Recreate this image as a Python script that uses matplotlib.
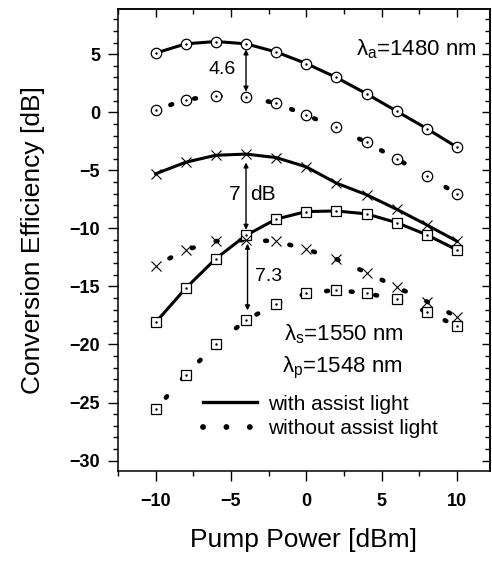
import matplotlib
matplotlib.use("Agg")
import matplotlib.pyplot as plt
from matplotlib.lines import Line2D
from matplotlib.ticker import MultipleLocator

plt.rcParams['font.family'] = ['Liberation Sans', 'DejaVu Sans']
plt.rcParams['mathtext.fontset'] = 'custom'
plt.rcParams['mathtext.rm'] = 'Liberation Sans'
plt.rcParams['mathtext.it'] = 'Liberation Sans'

# pump power [dBm]
pump = [-10, -8, -6, -4, -2, 0, 2, 4, 6, 8, 10]

# conversion efficiency [dB]
circ_with = [5.1, 5.9, 6.1, 5.9, 5.2, 4.2, 3.0, 1.6, 0.1, -1.4, -3.0]
circ_without = [0.2, 1.1, 1.4, 1.3, 0.8, -0.25, -1.3, -2.6, -4.0, -5.5, -7.0]
cross_with = [-5.3, -4.3, -3.7, -3.6, -3.9, -4.7, -6.1, -7.1, -8.35, -9.7, -11.1]
cross_without = [-13.2, -11.85, -11.1, -11.0, -11.1, -11.8, -12.65, -13.8, -15.05, -16.3, -17.6]
sq_with = [-18.1, -15.15, -12.6, -10.6, -9.2, -8.55, -8.5, -8.75, -9.5, -10.55, -11.85]
sq_without = [-25.6, -22.6, -20.0, -17.9, -16.5, -15.6, -15.3, -15.6, -16.1, -17.2, -18.4]

fig = plt.figure(figsize=(4.92, 5.61), dpi=100)
ax = fig.add_axes([118 / 492, 1 - 471 / 561, 372 / 492, 462 / 561])

solid = dict(color='black', lw=2.2, ls='-', zorder=2)
dotted = dict(color='black', lw=3.3, ls=(2, (0.4, 5.0)), dash_capstyle='round', zorder=2)

ax.plot(pump, circ_with, **solid)
ax.plot(pump, circ_without, **dotted)
ax.plot(pump, cross_with, **solid)
ax.plot(pump, cross_without, **dotted)
ax.plot(pump, sq_with, **solid)
ax.plot(pump, sq_without, **dotted)

# open markers with a small dot in the middle
for ys in (circ_with, circ_without):
    ax.plot(pump, ys, ls='none', marker='o', ms=7.5, mfc='white', mec='black', mew=0.9, zorder=3)
    ax.plot(pump, ys, ls='none', marker='.', ms=1.5, color='black', zorder=4)
for ys in (sq_with, sq_without):
    ax.plot(pump, ys, ls='none', marker='s', ms=6.5, mfc='white', mec='black', mew=0.9, zorder=3)
    ax.plot(pump, ys, ls='none', marker='.', ms=1.5, color='black', zorder=4)
for ys in (cross_with, cross_without):
    ax.plot(pump, ys, ls='none', marker='x', ms=7.5, mec='black', mew=0.8, zorder=3)

# difference arrows at -4 dBm
i = 3
arrow = dict(arrowstyle='<|-|>', color='black', lw=1.0, mutation_scale=7)
ax.annotate('', xy=(pump[i], circ_without[i]), xytext=(pump[i], circ_with[i]),
            arrowprops=dict(arrow, shrinkA=4, shrinkB=4))
ax.annotate('', xy=(pump[i], sq_with[i]), xytext=(pump[i], cross_with[i]),
            arrowprops=dict(arrow, shrinkA=6, shrinkB=4))
ax.annotate('', xy=(pump[i] + 0.1, sq_without[i]), xytext=(pump[i] + 0.1, sq_with[i]),
            arrowprops=dict(arrow, shrinkA=6, shrinkB=7))

ax.text(-5.6, 3.7, '4.6', fontsize=14, ha='center', va='center')
ax.text(-4.35, -7.1, '7', fontsize=15, ha='right', va='center')
ax.text(-3.7, -7.1, 'dB', fontsize=15, ha='left', va='center')
ax.text(-2.47, -14.15, '7.3', fontsize=14, ha='center', va='center')

ax.text(3.33, 4.9, r'$\mathregular{\lambda_a}$=1480 nm', fontsize=16, ha='left', va='baseline')
ax.text(-1.47, -19.65, r'$\mathregular{\lambda_s}$=1550 nm', fontsize=16, ha='left', va='baseline')
ax.text(-1.6, -22.4, r'$\mathregular{\lambda_p}$=1548 nm', fontsize=16, ha='left', va='baseline')

handles = [Line2D([], [], color='black', lw=2.4, ls='-'),
           Line2D([], [], color='black', lw=4.2, ls=(0, (0.01, 4.0)), dash_capstyle='round')]
ax.legend(handles, ['with assist light', 'without assist light'], loc='upper left',
          bbox_to_anchor=(0.228, 0.165), frameon=False, fontsize=15, borderpad=0,
          borderaxespad=0, handlelength=2.6, handletextpad=0.55, labelspacing=0.25)

ax.set_xlim(-12.5, 12.2)
ax.set_ylim(-30.9, 8.9)
ax.xaxis.set_major_locator(MultipleLocator(5))
ax.xaxis.set_minor_locator(MultipleLocator(2.5))
ax.yaxis.set_major_locator(MultipleLocator(5))
ax.yaxis.set_minor_locator(MultipleLocator(1))

for s in ax.spines.values():
    s.set_linewidth(1.1)
ax.tick_params(which='both', direction='out', width=1.0)
ax.tick_params(which='major', length=7)
ax.tick_params(which='minor', length=3.5)
ax.tick_params(axis='y', pad=6)
ax.tick_params(axis='x', pad=9)
for lab in ax.get_xticklabels() + ax.get_yticklabels():
    lab.set_fontweight('bold')
    lab.set_fontsize(13)

# mirrored ticks on top and right, pointing inward
top = ax.secondary_xaxis('top')
top.xaxis.set_major_locator(MultipleLocator(5))
top.xaxis.set_minor_locator(MultipleLocator(2.5))
top.tick_params(which='both', direction='in', labeltop=False, width=1.0)
top.tick_params(which='major', length=6)
top.tick_params(which='minor', length=3.5)
right = ax.secondary_yaxis('right')
right.yaxis.set_major_locator(MultipleLocator(5))
right.yaxis.set_minor_locator(MultipleLocator(1))
right.tick_params(which='both', direction='in', labelright=False, width=1.0)
right.tick_params(which='major', length=6)
right.tick_params(which='minor', length=3.5)
for sec in (top, right):
    for s in sec.spines.values():
        s.set_linewidth(1.1)

ax.set_xlabel('Pump Power [dBm]', fontsize=19)
ax.set_ylabel('Conversion Efficiency [dB]', fontsize=19)
ax.xaxis.set_label_coords(0.5, -0.149)
ax.xaxis.label.set_va('center')
ax.yaxis.set_label_coords(-0.228, 0.5)
ax.yaxis.label.set_va('center')

fig.savefig('out.png', dpi=100)
